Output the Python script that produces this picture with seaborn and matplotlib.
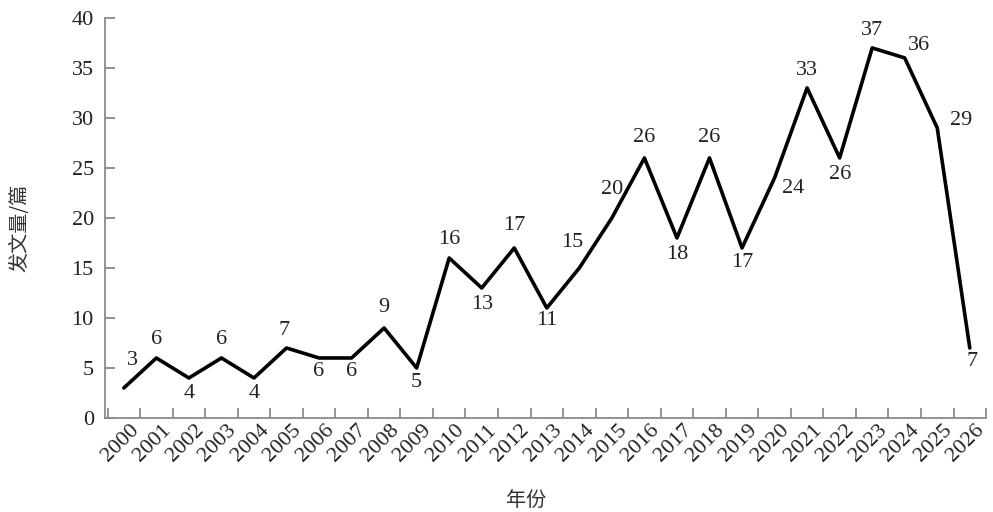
import seaborn as sns
import matplotlib.pyplot as plt
import matplotlib.transforms as mtransforms
import pandas as pd

years = [str(y) for y in range(2000, 2027)]
counts = [3, 6, 4, 6, 4, 7, 6, 6, 9, 5, 16, 13, 17, 11, 15, 20, 26, 18, 26, 17,
          24, 33, 26, 37, 36, 29, 7]
y_ticks = [0, 5, 10, 15, 20, 25, 30, 35, 40]

# label offsets (pixels, dx, dy) so numbers sit beside the line like the original
offsets = [(9, 27), (0, 18), (0, -16), (0, 18), (0, -16), (-2, 17), (0, -14), (0, -14),
           (0, 20), (0, -15), (0, 18), (0, -17), (0, 22), (0, -13), (-7, 25), (0, 28),
           (0, 20), (0, -17), (0, 20), (0, -15), (19, -11), (0, 17), (0, -17), (0, 17),
           (14, 12), (24, 7), (2, -14)]

df = pd.DataFrame({"year": range(len(years)), "count": counts})

sns.set_style("ticks")
plt.rcParams['font.family'] = ['Liberation Serif', 'DejaVu Serif']

fig = plt.figure(figsize=(9.93, 5.12), dpi=100)
ax = fig.add_axes([0.1057, 0.1836, 0.993 - 0.1057, 0.965 - 0.1836])

sns.lineplot(data=df, x="year", y="count", color="black", linewidth=2.6, ax=ax)

ax.set_xlim(-0.58, 26.5)
ax.set_ylim(0, 40)
ax.set_yticks(y_ticks)
ax.set_yticklabels([str(v) for v in y_ticks], fontsize=16, color='#222222')

ax.set_xticks([i + 0.5 for i in range(-1, 27)])
ax.set_xticklabels([])
ax.set_xticks(range(len(years)), minor=True)
ax.set_xticklabels(years, minor=True, rotation=45, ha='right', va='center',
                   rotation_mode='anchor', fontsize=16, color='#222222')
ax.tick_params(axis='x', which='minor', length=0, pad=7)
ax.tick_params(axis='both', which='major', direction='in', length=7, color='#8a8a8a', width=1.3)
ax.tick_params(axis='y', pad=8)

off = mtransforms.ScaledTranslation(12 / 100, 0, fig.dpi_scale_trans)
for lab in ax.get_xticklabels(minor=True):
    lab.set_transform(lab.get_transform() + off)

for s in ['top', 'right']:
    ax.spines[s].set_visible(False)
for s in ['left', 'bottom']:
    ax.spines[s].set_color('#8a8a8a')
    ax.spines[s].set_linewidth(1.3)

for i, v in enumerate(counts):
    dx, dy = offsets[i]
    ax.annotate(str(v), (i, v), xytext=(dx * 0.72, dy * 0.72), textcoords='offset points',
                ha='center', va='center', fontsize=16, color='#222222')

ax.set_xlabel("")
ax.set_ylabel("")
fig.text(20 / 993, 1 - 228 / 512, "发文量/篇", rotation=90, ha='center', va='center',
         fontsize=14.5, family=['Noto Sans CJK SC', 'DejaVu Sans'], color='#333333')
fig.text(526 / 993, 1 - 500 / 512, "年份", ha='center', va='center',
         fontsize=14.5, family=['Noto Sans CJK SC', 'DejaVu Sans'], color='#333333')

fig.savefig("out.png", dpi=100)
